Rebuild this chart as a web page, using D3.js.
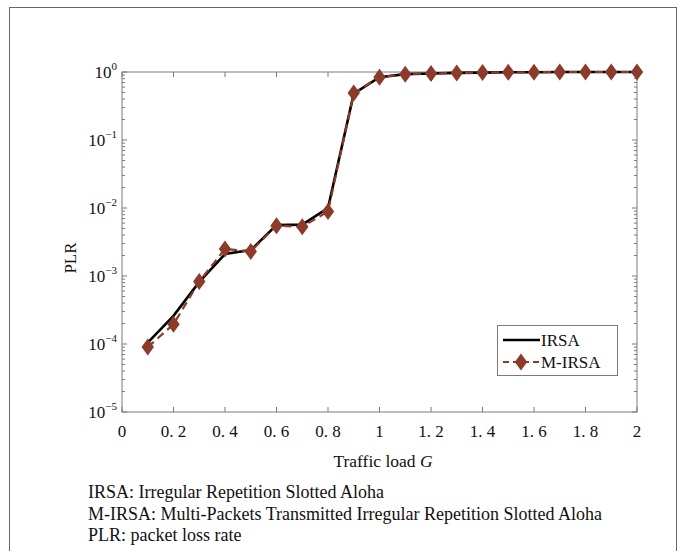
<!DOCTYPE html>
<html><head><meta charset="utf-8">
<script src="https://cdn.jsdelivr.net/npm/d3@7"></script>
<style>body{margin:0;background:#fff}svg text{font-family:"Liberation Serif",serif}</style>
</head><body>
<svg id="c" width="685" height="551"></svg>
<script>
const loads = [0.1,0.2,0.3,0.4,0.5,0.6,0.7,0.8,0.9,1.0,1.1,1.2,1.3,1.4,1.5,1.6,1.7,1.8,1.9,2.0];
const irsa  = [1.05e-4,2.6e-4,8.2e-4,2.1e-3,2.4e-3,5.6e-3,5.7e-3,1.0e-2,0.48,0.84,0.93,0.95,0.97,0.98,0.99,0.99,1.0,1.0,1.0,1.0];
const mirsa = [9e-5,1.95e-4,8.3e-4,2.5e-3,2.3e-3,5.5e-3,5.3e-3,8.9e-3,0.49,0.84,0.93,0.95,0.97,0.98,0.99,0.99,1.0,1.0,1.0,1.0];
const xTicks = [0,0.2,0.4,0.6,0.8,1,1.2,1.4,1.6,1.8,2];
const xTickLabels = ["0","0. 2","0. 4","0. 6","0. 8","1","1. 2","1. 4","1. 6","1. 8","2"];
const yExps = [0,-1,-2,-3,-4,-5];
const seriesNames = ["IRSA","M-IRSA"];
const captions = ["IRSA: Irregular Repetition Slotted Aloha","M-IRSA: Multi-Packets Transmitted Irregular Repetition Slotted Aloha","PLR: packet loss rate"];

const svg = d3.select("#c");
const L=122,R=637,T=72,B=412;
const x = d3.scaleLinear().domain([0,2]).range([L,R]);
const y = d3.scaleLog().domain([1e-5,1]).range([B,T]);
const axisCol="#7a7a7a", brown="#8c3a29";

svg.append("rect").attr("x",9.5).attr("y",7.5).attr("width",667).attr("height",560)
  .attr("fill","none").attr("stroke","#666").attr("stroke-width",1);

svg.append("rect").attr("x",L).attr("y",T).attr("width",R-L).attr("height",B-T)
  .attr("fill","none").attr("stroke",axisCol).attr("stroke-width",1);

const minors=[];
for(let e=-5;e<0;e++) for(let k=2;k<=9;k++) minors.push(k*Math.pow(10,e));
const g=svg.append("g").attr("stroke",axisCol).attr("stroke-width",1);
minors.forEach(v=>{
  g.append("line").attr("x1",L).attr("x2",L+3).attr("y1",y(v)).attr("y2",y(v));
  g.append("line").attr("x1",R).attr("x2",R-3).attr("y1",y(v)).attr("y2",y(v));
});
yExps.forEach(e=>{
  const v=Math.pow(10,e);
  g.append("line").attr("x1",L).attr("x2",L+5).attr("y1",y(v)).attr("y2",y(v));
  g.append("line").attr("x1",R).attr("x2",R-5).attr("y1",y(v)).attr("y2",y(v));
});
xTicks.forEach(v=>{
  g.append("line").attr("x1",x(v)).attr("x2",x(v)).attr("y1",B).attr("y2",B-5);
  g.append("line").attr("x1",x(v)).attr("x2",x(v)).attr("y1",T).attr("y2",T+5);
});

yExps.forEach(e=>{
  const t=svg.append("text").attr("x",L-5).attr("y",y(Math.pow(10,e))+6)
    .attr("text-anchor","end").attr("font-size",17).attr("fill","#111");
  t.append("tspan").text("10");
  t.append("tspan").attr("dy",-8).attr("font-size",11).text(e===0?"0":"\u2212"+(-e));
});
xTicks.forEach((v,i)=>{
  svg.append("text").attr("x",x(v)).attr("y",B+25).attr("text-anchor","middle")
    .attr("font-size",17).attr("fill","#111").text(xTickLabels[i]);
});

const xt=svg.append("text").attr("x",383).attr("y",467).attr("text-anchor","middle").attr("font-size",17.5).attr("fill","#111");
xt.append("tspan").text("Traffic load ");
xt.append("tspan").attr("font-style","italic").text("G");
svg.append("text").attr("transform","translate(76,258) rotate(-90)").attr("text-anchor","middle")
  .attr("font-size",17).attr("fill","#111").text("PLR");

const pts1=loads.map((d,i)=>[d,irsa[i]]);
const pts2=loads.map((d,i)=>[d,mirsa[i]]);
const line=d3.line().x(d=>x(d[0])).y(d=>y(d[1]));
svg.append("path").attr("d",line(pts1)).attr("fill","none").attr("stroke","#000").attr("stroke-width",2.6);
svg.append("path").attr("d",line(pts2)).attr("fill","none").attr("stroke",brown).attr("stroke-width",2.2).attr("stroke-dasharray","8,5");
const dia="M0,-8.5L6.2,0L0,8.5L-6.2,0Z";
svg.append("g").selectAll("path").data(pts2).join("path")
  .attr("d",dia).attr("transform",d=>`translate(${x(d[0])},${y(d[1])})`).attr("fill",brown);

svg.append("rect").attr("x",497.5).attr("y",325.5).attr("width",120).attr("height",50)
  .attr("fill","#fff").attr("stroke",axisCol);
svg.append("line").attr("x1",503).attr("x2",540).attr("y1",340).attr("y2",340).attr("stroke","#000").attr("stroke-width",2.6);
svg.append("text").attr("x",541).attr("y",346).attr("font-size",17).attr("fill","#111").text(seriesNames[0]);
svg.append("line").attr("x1",503).attr("x2",540).attr("y1",362).attr("y2",362).attr("stroke",brown).attr("stroke-width",2.2).attr("stroke-dasharray","6,4");
svg.append("path").attr("d",dia).attr("transform","translate(521,362)").attr("fill",brown);
svg.append("text").attr("x",541).attr("y",368).attr("font-size",17).attr("fill","#111").text(seriesNames[1]);

captions.forEach((c,i)=>{
  svg.append("text").attr("x",88).attr("y",498+i*21.5).attr("font-size",18).attr("fill","#111").text(c);
});
</script>
</body></html>
